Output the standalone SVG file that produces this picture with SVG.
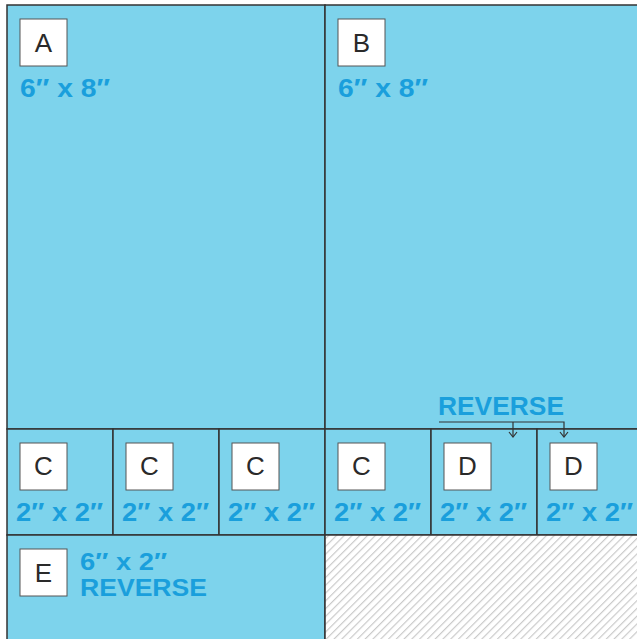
<svg xmlns="http://www.w3.org/2000/svg" width="637" height="639" viewBox="0 0 637 639">
<defs>
<style>
.reg{fill:#7dd3ec;stroke:#333;stroke-width:1.5}
.box{fill:#fff;stroke:#555;stroke-width:1}
.let{font-family:"Liberation Sans",Arial,sans-serif;font-size:26px;fill:#2a2a2a;text-anchor:middle}
.dim{font-family:"Liberation Sans",Arial,sans-serif;font-size:26px;font-weight:bold;fill:#1a9fdc}
.dimE{font-family:"Liberation Sans",Arial,sans-serif;font-size:24px;font-weight:bold;fill:#1a9fdc}
.conn{fill:none;stroke:#333;stroke-width:1.2}
</style>
<pattern id="hatch" patternUnits="userSpaceOnUse" width="5.5" height="5.5" patternTransform="rotate(45)">
<rect width="5.5" height="5.5" fill="#fff"/>
<line x1="0.6" y1="0" x2="0.6" y2="5.5" stroke="#c6c6c6" stroke-width="1.1"/>
</pattern>
<marker id="chev" markerWidth="10" markerHeight="10" refX="8" refY="5" orient="auto" markerUnits="userSpaceOnUse" viewBox="0 0 10 10">
<path d="M3,1 L8,5 L3,9" fill="none" stroke="#333" stroke-width="1.2"/>
</marker>
</defs>
<rect width="637" height="639" fill="#fff"/>
<g id="A">
<rect class="reg" x="7" y="5" width="318" height="424"/>
<rect class="box" x="20" y="19" width="47" height="47"/>
<text class="let" x="43.5" y="52">A</text>
<text class="dim" x="20" y="97" textLength="90" lengthAdjust="spacingAndGlyphs">6″ x 8″</text>
</g>
<g id="B">
<rect class="reg" x="325" y="5" width="320" height="424"/>
<rect class="box" x="338" y="19" width="47" height="47"/>
<text class="let" x="361.5" y="52">B</text>
<text class="dim" x="338" y="97" textLength="90" lengthAdjust="spacingAndGlyphs">6″ x 8″</text>
</g>
<g id="C1">
<rect class="reg" x="7" y="429" width="106" height="106"/>
<rect class="box" x="20" y="443" width="47" height="47"/>
<text class="let" x="43.5" y="475">C</text>
<text class="dim" x="16" y="521" textLength="87" lengthAdjust="spacingAndGlyphs">2″ x 2″</text>
</g>
<g id="C2">
<rect class="reg" x="113" y="429" width="106" height="106"/>
<rect class="box" x="126" y="443" width="47" height="47"/>
<text class="let" x="149.5" y="475">C</text>
<text class="dim" x="122" y="521" textLength="87" lengthAdjust="spacingAndGlyphs">2″ x 2″</text>
</g>
<g id="C3">
<rect class="reg" x="219" y="429" width="106" height="106"/>
<rect class="box" x="232" y="443" width="47" height="47"/>
<text class="let" x="255.5" y="475">C</text>
<text class="dim" x="228" y="521" textLength="87" lengthAdjust="spacingAndGlyphs">2″ x 2″</text>
</g>
<g id="C4">
<rect class="reg" x="325" y="429" width="106" height="106"/>
<rect class="box" x="338" y="443" width="47" height="47"/>
<text class="let" x="361.5" y="475">C</text>
<text class="dim" x="334" y="521" textLength="87" lengthAdjust="spacingAndGlyphs">2″ x 2″</text>
</g>
<g id="D1">
<rect class="reg" x="431" y="429" width="106" height="106"/>
<rect class="box" x="444" y="443" width="47" height="47"/>
<text class="let" x="467.5" y="475">D</text>
<text class="dim" x="440" y="521" textLength="87" lengthAdjust="spacingAndGlyphs">2″ x 2″</text>
</g>
<g id="D2">
<rect class="reg" x="537" y="429" width="108" height="106"/>
<rect class="box" x="550" y="443" width="47" height="47"/>
<text class="let" x="573.5" y="475">D</text>
<text class="dim" x="546" y="521" textLength="87" lengthAdjust="spacingAndGlyphs">2″ x 2″</text>
</g>
<g id="E">
<rect class="reg" x="7" y="535" width="318" height="110"/>
<rect class="box" x="20" y="549" width="47" height="47"/>
<text class="let" x="43.5" y="582">E</text>
<text class="dimE" x="80" y="570" textLength="87" lengthAdjust="spacingAndGlyphs">6″ x 2″</text>
<text class="dimE" x="80" y="596" textLength="127" lengthAdjust="spacingAndGlyphs">REVERSE</text>
</g>
<g id="unused">
<rect x="325" y="535" width="320" height="110" fill="url(#hatch)" stroke="#333" stroke-width="1.5"/>
</g>
<g id="reverse-label">
<text class="dim" x="438" y="415" textLength="126" lengthAdjust="spacingAndGlyphs">REVERSE</text>
</g>
<g id="connectors">
<path class="conn" d="M439,422 H564 V437" marker-end="url(#chev)"/>
<path class="conn" d="M513,422 V437" marker-end="url(#chev)"/>
</g>
</svg>
